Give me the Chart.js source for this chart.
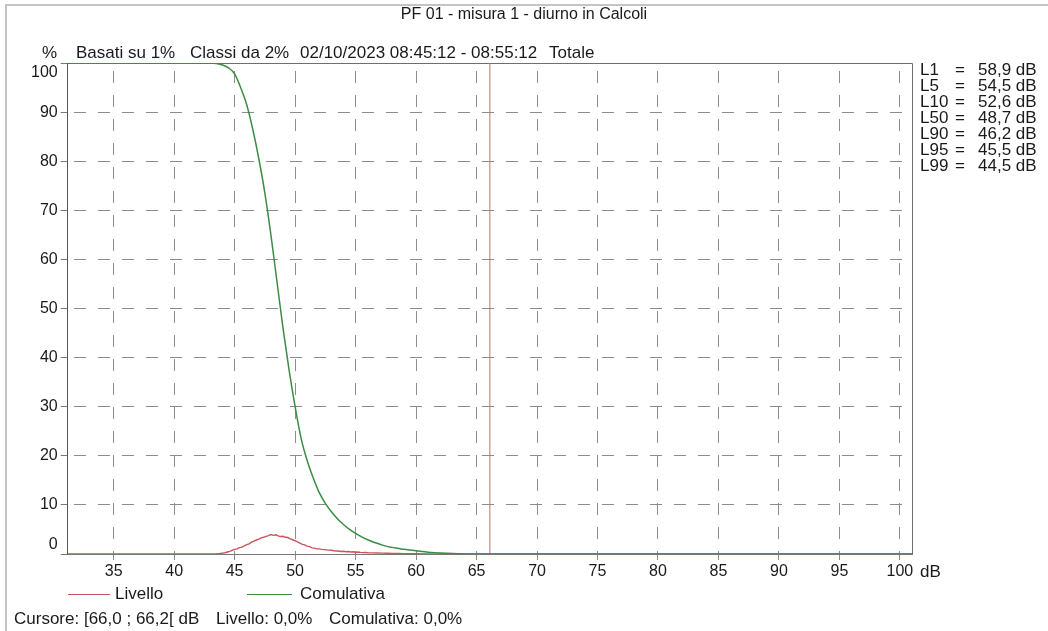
<!DOCTYPE html>
<html>
<head>
<meta charset="utf-8">
<script src="https://cdn.jsdelivr.net/npm/chart.js@4.4.1/dist/chart.umd.min.js"></script>
<style>
  body { margin: 0; background: #fff; }
  #wrap { position: relative; width: 1048px; height: 631px; overflow: hidden; font-family: 'Liberation Sans', Arial, sans-serif; color: #1a1a1a; font-size: 17px; }
  #frame { position: absolute; left: 5px; top: 4px; width: 1060px; height: 650px; border: 2px solid #c4c4c4; }
  canvas { position: absolute; left: 0; top: 0; }
  .txt { position: absolute; white-space: nowrap; line-height: 18px; }
  .stat { position: absolute; left: 920px; white-space: nowrap; line-height: 16px; }
  .stat span { position: absolute; }
  .leg-line { position: absolute; height: 0; border-top: 1.5px solid; }
</style>
</head>
<body>
<div id="wrap">
  <div id="frame"></div>
  <canvas id="chart" width="1048" height="631"></canvas>
  <div class="txt" style="left:0;width:1048px;text-align:center;top:5px;font-size:16px;">PF 01 - misura 1 - diurno in Calcoli</div>
  <div class="txt" style="left:42px;top:44px;">%</div>
  <div class="txt" style="left:76px;top:44px;">Basati su 1%</div>
  <div class="txt" style="left:190px;top:44px;">Classi da 2%</div>
  <div class="txt" style="left:300px;top:44px;">02/10/2023 08:45:12 - 08:55:12</div>
  <div class="txt" style="left:549px;top:44px;">Totale</div>
  <div id="stats"></div>
  <div class="txt" style="left:920px;top:563px;">dB</div>
  <div class="leg-line" style="left:68px;width:42px;top:594px;border-color:#c9555a;"></div>
  <div class="txt" style="left:115px;top:585px;">Livello</div>
  <div class="leg-line" style="left:247px;width:45px;top:594px;border-color:#3c8c44;"></div>
  <div class="txt" style="left:300px;top:585px;">Comulativa</div>
  <div class="txt" style="left:14px;top:610px;">Cursore: [66,0 ; 66,2[ dB</div>
  <div class="txt" style="left:216px;top:610px;">Livello: 0,0%</div>
  <div class="txt" style="left:329px;top:610px;">Comulativa: 0,0%</div>
</div>
<script>
// level distribution (% per 0.2 dB class)
const levelDb = [31.2, 43.2, 43.4, 43.6, 43.8, 44.0, 44.2, 44.4, 44.6, 44.8, 45.0, 45.2, 45.4, 45.6, 45.8,
  46.0, 46.2, 46.4, 46.6, 46.8, 47.0, 47.2, 47.4, 47.6, 47.8, 48.0, 48.2, 48.4, 48.6, 48.8,
  49.0, 49.2, 49.4, 49.6, 49.8, 50.0, 50.2, 50.4, 50.6, 50.8, 51.0, 51.2, 51.4, 51.6, 51.8,
  52.0, 52.2, 52.4, 52.6, 52.8, 53.0, 53.2, 53.4, 53.6, 53.8, 54.0, 54.2, 54.4, 54.6, 54.8,
  55.0, 55.2, 55.4, 55.6, 55.8, 56.0, 56.4, 56.8, 57.2, 57.6, 58.0, 58.5, 59.0, 60.0, 61.0,
  62.0, 63.0, 101];
const levelPct = [0, 0, 0.03, 0.06, 0.1, 0.18, 0.25, 0.4, 0.55, 0.75, 0.95, 1.05, 1.3, 1.4, 1.65,
  1.9, 2.05, 2.4, 2.6, 2.85, 3.05, 3.3, 3.4, 3.6, 3.75, 3.95, 3.8, 3.9, 3.7, 3.55,
  3.6, 3.4, 3.35, 3.1, 2.9, 2.7, 2.45, 2.2, 1.95, 1.85, 1.6, 1.5, 1.25, 1.2, 1.05,
  1.05, 0.95, 0.9, 0.85, 0.8, 0.75, 0.65, 0.6, 0.6, 0.5, 0.55, 0.45, 0.5, 0.4, 0.45,
  0.35, 0.4, 0.33, 0.28, 0.32, 0.25, 0.22, 0.2, 0.17, 0.14, 0.12, 0.09, 0.07, 0.05, 0.03,
  0.01, 0, 0];

// cumulative (% of time above level)
const cumDb = [31.2, 43.0, 43.5, 44.0, 44.5, 45.0, 45.5, 46.0, 46.5, 47.0, 47.5, 48.0, 48.5, 49.0,
  49.5, 50.0, 50.5, 51.0, 51.5, 52.0, 52.5, 53.0, 53.5, 54.0, 54.5, 55.0, 55.5, 56.0, 56.5,
  57.0, 57.5, 58.0, 58.5, 59.0, 59.5, 60.0, 60.5, 61.0, 61.5, 62.0, 62.5, 63.0, 63.5, 64.0,
  65.0, 101];
const cumPct = [100, 100, 99.9, 99.6, 99.0, 97.8, 95.0, 91.5, 86.5, 80.5, 73.5, 65, 55.5, 46,
  37.5, 30, 23.5, 19, 15.5, 12.5, 10.3, 8.6, 7.2, 6.0, 5.0, 4.2, 3.5, 2.9, 2.4,
  2.0, 1.6, 1.35, 1.15, 0.95, 0.8, 0.65, 0.5, 0.38, 0.28, 0.2, 0.13, 0.08, 0.04, 0.02,
  0, 0];

// cursor at [66,0 ; 66,2[
const cursorDb = [66.1, 66.1];
const cursorPct = [0, 100];

const xTicks = [35, 40, 45, 50, 55, 60, 65, 70, 75, 80, 85, 90, 95, 100];
const yTicks = [0, 10, 20, 30, 40, 50, 60, 70, 80, 90, 100];

const statNames = ['L1', 'L5', 'L10', 'L50', 'L90', 'L95', 'L99'];
const statValues = ['58,9', '54,5', '52,6', '48,7', '46,2', '45,5', '44,5'];

const toPoints = (xs, ys) => xs.map((x, i) => ({ x: x, y: ys[i] }));

let statsHtml = '';
statNames.forEach((name, i) => {
  const top = 62 + i * 16;
  statsHtml += `<div class="stat" style="top:${top}px"><span style="left:0">${name}</span>` +
    `<span style="left:35px">=</span><span style="left:58px">${statValues[i]} dB</span></div>`;
});
document.getElementById('stats').innerHTML = statsHtml;

const plotFrame = {
  id: 'plotFrame',
  beforeDatasetsDraw(chart) {
    const { ctx, chartArea: a } = chart;
    ctx.save();
    ctx.strokeStyle = '#6e6e6e';
    ctx.lineWidth = 1;
    ctx.beginPath();
    ctx.moveTo(a.left, a.top + 0.5);
    ctx.lineTo(a.right + 0.5, a.top + 0.5);
    ctx.lineTo(a.right + 0.5, a.bottom);
    ctx.stroke();
    ctx.restore();
  }
};

const font = { family: "'Liberation Sans', Arial, sans-serif", size: 16 };

new Chart(document.getElementById('chart').getContext('2d'), {
  type: 'line',
  data: {
    datasets: [
      {
        label: 'Comulativa',
        data: toPoints(cumDb, cumPct),
        borderColor: '#3c8c44',
        borderWidth: 1.5,
        cubicInterpolationMode: 'monotone',
        pointRadius: 0,
        order: 0
      },
      {
        label: 'Livello',
        data: toPoints(levelDb, levelPct),
        borderColor: '#c9555a',
        borderWidth: 1.4,
        tension: 0,
        pointRadius: 0,
        order: 1
      },
      {
        label: 'Cursore',
        data: toPoints(cursorDb, cursorPct),
        borderColor: '#c27068',
        borderWidth: 1,
        pointRadius: 0,
        order: 2
      }
    ]
  },
  options: {
    responsive: false,
    animation: false,
    layout: { padding: { top: 63, left: 27.7, right: 136, bottom: 47 } },
    plugins: { legend: { display: false }, tooltip: { enabled: false } },
    scales: {
      x: {
        type: 'linear',
        min: 31.2,
        max: 101,
        afterBuildTicks: s => { s.ticks = xTicks.map(v => ({ value: v })); },
        afterFit: s => { s.height = 30; },
        ticks: { autoSkip: false, maxRotation: 0, font: font, color: '#1a1a1a', padding: 2 },
        grid: { color: '#8c8c8c', tickColor: '#8c8c8c', tickLength: 6, lineWidth: 1 },
        border: { color: '#777', dash: [12, 12], dashOffset: -8 }
      },
      y: {
        min: 0,
        max: 100,
        afterBuildTicks: s => { s.ticks = yTicks.map(v => ({ value: v })); },
        afterFit: s => { s.width = 40; },
        ticks: {
          font: font,
          color: '#1a1a1a',
          padding: 3,
          callback: v => v === 100 ? ['', '100'] : (v === 0 ? ['0', ''] : String(v))
        },
        grid: {
          color: c => (c.tick && (c.tick.value === 0 || c.tick.value === 100)) ? 'rgba(0,0,0,0)' : '#8c8c8c',
          tickColor: '#777',
          tickLength: 7,
          lineWidth: 1
        },
        border: { color: '#555', dash: [12, 12], dashOffset: -6 }
      }
    }
  },
  plugins: [plotFrame]
});
</script>
</body>
</html>
